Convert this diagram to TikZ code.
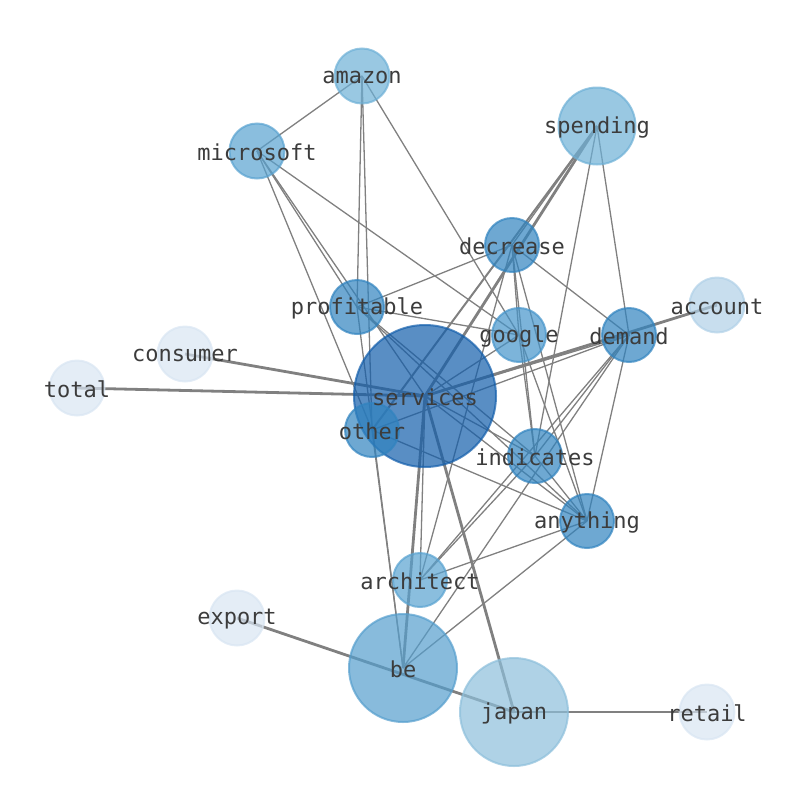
\documentclass[tikz,border=0pt]{standalone}
\usepackage{fontspec}
\setmonofont{DejaVu Sans Mono}
\definecolor{cA}{RGB}{19,94,171}
\definecolor{cB}{RGB}{85,158,205}
\definecolor{cC}{RGB}{141,191,219}
\definecolor{cD}{RGB}{109,176,214}
\definecolor{cE}{RGB}{88,162,208}
\definecolor{cF}{RGB}{48,131,191}
\definecolor{cG}{RGB}{69,148,202}
\definecolor{cH}{RGB}{176,208,231}
\definecolor{cI}{RGB}{216,229,242}
\definecolor{edgegray}{RGB}{128,128,128}
\definecolor{labelgray}{RGB}{60,60,60}
\tikzset{
  vtx/.style={circle, inner sep=0pt, minimum size=#1, fill opacity=0.7, draw opacity=0.7, line width=2pt},
  lbl/.style={font=\ttfamily\fontsize{22}{22}\selectfont, text=labelgray, inner sep=0pt, yshift=-1.5pt},
  thin/.style={draw=edgegray, line width=1.3pt},
  thick/.style={draw=edgegray, line width=2.8pt},
  mid/.style={draw=edgegray, line width=2pt},
}
\begin{document}
\begin{tikzpicture}[x=1pt,y=-1pt]
\useasboundingbox (0,0) rectangle (794,790);
% coordinates of node centres
\coordinate (amazon) at (362,76);
\coordinate (microsoft) at (257,151);
\coordinate (spending) at (597,126);
\coordinate (decrease) at (512,245);
\coordinate (account) at (717,305);
\coordinate (profitable) at (357,307);
\coordinate (google) at (519,335);
\coordinate (demand) at (629,335);
\coordinate (consumer) at (185,354);
\coordinate (total) at (77,388);
\coordinate (services) at (425,396);
\coordinate (other) at (372,430);
\coordinate (indicates) at (535,456);
\coordinate (anything) at (587,521);
\coordinate (architect) at (420,580);
\coordinate (export) at (237,618);
\coordinate (be) at (403,668);
\coordinate (japan) at (514,712);
\coordinate (retail) at (707,712);
% edges
\draw[thick] (total) -- (services);
\draw[thick] (consumer) -- (services);
\draw[thick] (services) -- (account);
\draw[thick] (services) -- (spending);
\draw[thick] (services) -- (japan);
\draw[thick] (export) -- (japan);
\draw[thick] (japan) -- (retail);
\draw[thick] (services) -- (be);
\draw[mid] (spending) -- (other);
\foreach \a/\b in {amazon/microsoft, amazon/profitable, amazon/other, amazon/google,
  microsoft/other, microsoft/profitable, microsoft/services, microsoft/google,
  spending/decrease, spending/indicates, spending/demand,
  decrease/profitable, decrease/demand, decrease/google, decrease/indicates, decrease/anything, decrease/architect,
  profitable/google, profitable/indicates, profitable/anything, profitable/be,
  services/google, services/demand, services/indicates, services/anything, services/architect,
  other/be, other/anything, other/demand,
  demand/indicates, demand/architect, demand/be, demand/anything,
  indicates/architect, indicates/anything,
  anything/architect, anything/be,
  google/indicates, google/anything}
  \draw[thin] (\a) -- (\b);
% nodes
\foreach \n/\c/\d in {amazon/cD/55, microsoft/cE/55, spending/cD/77, decrease/cF/54,
  account/cH/55, profitable/cF/54, google/cG/54, demand/cF/54, consumer/cI/55,
  total/cI/55, services/cA/142, other/cF/54, indicates/cF/54, anything/cF/54,
  architect/cE/54, export/cI/55, be/cB/108, japan/cC/108, retail/cI/55}
  \node[vtx=\d pt, fill=\c, draw=\c] (n-\n) at (\n) {};
% labels
\foreach \n in {amazon, microsoft, spending, decrease, account, profitable, google, demand, consumer,
  total, services, other, indicates, anything, architect, export, be, japan, retail}
  \node[lbl] (t-\n) at (\n) {\n};
\end{tikzpicture}
\end{document}
